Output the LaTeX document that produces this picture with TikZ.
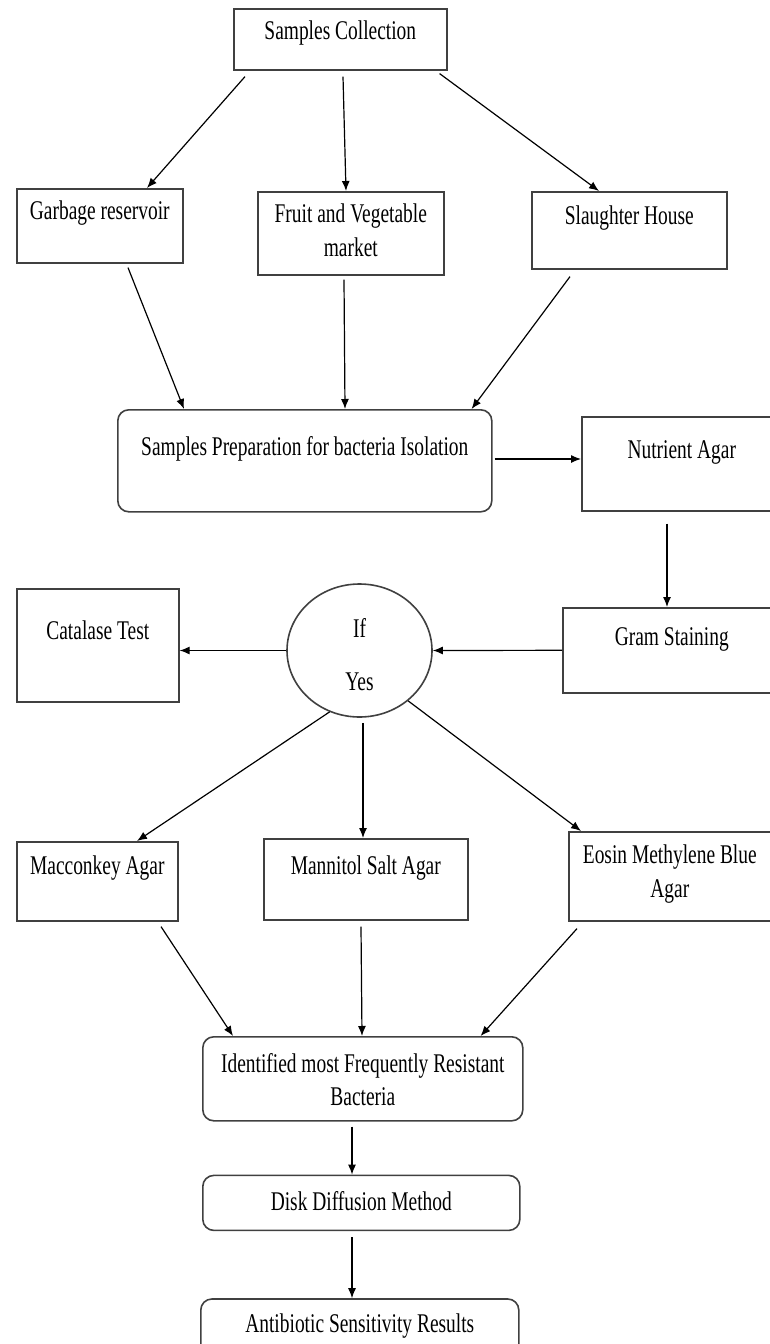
\documentclass[tikz,border=0pt]{standalone}
\usepackage{fontspec}
\setmainfont{Liberation Serif}[FakeStretch=0.72]
\usetikzlibrary{arrows.meta, positioning, shapes.geometric}
\tikzstyle{chart}=[x=1pt, y=-1pt, line width=1.2pt, >={Latex[length=10pt,width=8pt]}]
\tikzstyle{blk}=[draw=black!75, line width=1.6pt, inner sep=0pt, anchor=north west, align=center, font=\fontsize{27}{34}\selectfont]
\tikzstyle{rblk}=[blk, rounded corners=11pt]

\begin{document}
\begin{tikzpicture}[chart]
  \useasboundingbox (0,0) rectangle (769,1344);
  \node[blk,minimum width=213pt,text height=31pt,text depth=30pt] (col) at (233,8) {Samples Collection};
  \node[blk,minimum width=166pt,text height=31pt,text depth=43pt] (garb) at (16,188) {Garbage reservoir};
  \node[blk,minimum width=186pt,text height=65pt,text depth=18pt] (fruit) at (257,191) {Fruit and Vegetable\\market};
  \node[blk,minimum width=195pt,text height=33pt,text depth=44pt] (slau) at (531,191) {Slaughter House};
  \node[rblk,minimum width=374pt,text height=46pt,text depth=56pt] (prep) at (117,409) {Samples Preparation for bacteria Isolation};
  \node[blk,minimum width=200pt,text height=42pt,text depth=52pt] (nutr) at (581,416) {Nutrient Agar};
  \node[blk,minimum width=218pt,text height=38pt,text depth=47pt] (gram) at (562,607) {Gram Staining};
  \node[blk,ellipse,anchor=center,minimum width=145pt,minimum height=133pt,text height=80pt,text depth=1pt] (if) at (359.5,650.5) {If\\[19pt]Yes};
  \node[blk,minimum width=162pt,text height=51pt,text depth=62pt] (cat) at (16,588) {Catalase Test};
  \node[blk,minimum width=161pt,text height=33pt,text depth=46pt] (mac) at (16,841) {Macconkey Agar};
  \node[blk,minimum width=204pt,text height=36pt,text depth=45pt] (man) at (263,838) {Mannitol Salt Agar};
  \node[blk,minimum width=202pt,text height=66pt,text depth=23pt] (emb) at (568,831) {Eosin Methylene Blue\\Agar};
  \node[rblk,minimum width=320pt,text height=69pt,text depth=15pt,font=\fontsize{27}{33}\selectfont] (ident) at (202,1036) {Identified most Frequently Resistant\\Bacteria};
  \node[rblk,minimum width=317pt,text height=35pt,text depth=20pt] (disk) [below=53pt of ident.south west, anchor=north west] {Disk Diffusion Method};
  \node[rblk,minimum width=318pt,text height=33pt,text depth=24pt] (res) [below=67pt of disk.south west, anchor=north west, xshift=-2pt] {Antibiotic Sensitivity Results};

  \path[->] ([xshift=12pt,yshift=-6pt]col.south west) edge ([xshift=131pt]garb.north west);
  \path[->] ([xshift=110pt,yshift=-6pt]col.south west) edge ([xshift=89pt]fruit.north west);
  \path[->] ([xshift=-8pt,yshift=-3pt]col.south east) edge ([xshift=68pt]slau.north west);
  \path[->] ([xshift=112pt,yshift=-4pt]garb.south west) edge ([xshift=67pt]prep.north west);
  \path[->] ([xshift=87pt,yshift=-4pt]fruit.south west) edge ([xshift=228pt]prep.north west);
  \path[->] ([xshift=39pt,yshift=-7pt]slau.south west) edge ([xshift=-21pt]prep.north east);
  \path[->] ([xshift=2pt,yshift=-50pt]prep.north east) edge ([yshift=-43pt]nutr.north west);
  \path[->] ([xshift=86pt,yshift=-12pt]nutr.south west) edge ([xshift=105pt]gram.north west);
  \path[->] (gram.west) edge (if.east);
  \path[->] (if.west) edge (if.west -| cat.east);
  \path[->] (if.244) edge ([xshift=121pt]mac.north west);
  \path[->] ([xshift=3.5pt,yshift=-5pt]if.south) edge ([xshift=100pt]man.north west);
  \path[->] (if.314) edge ([xshift=13pt]emb.north west);
  \path[->] ([xshift=145pt,yshift=-5pt]mac.south west) edge ([xshift=31pt]ident.north west);
  \path[->] ([xshift=98pt,yshift=-6pt]man.south west) edge ([xshift=160pt]ident.north west);
  \path[->] ([xshift=9pt,yshift=-7pt]emb.south west) edge ([xshift=-43pt]ident.north east);
  \path[->] ([xshift=150pt,yshift=-5pt]ident.south west) edge ([xshift=150pt]disk.north west);
  \path[->] ([xshift=150pt,yshift=-6pt]disk.south west) edge ([xshift=152pt]res.north west);
\end{tikzpicture}
\end{document}
